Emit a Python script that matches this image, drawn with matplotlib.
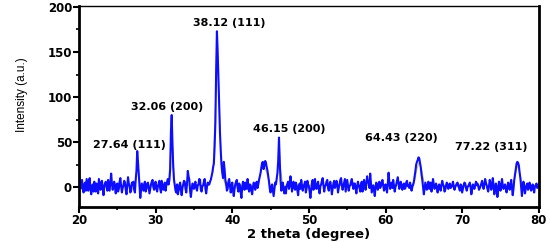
import matplotlib
matplotlib.use("Agg")
import matplotlib.pyplot as plt
import numpy as np
from matplotlib.ticker import MultipleLocator

# measured pattern, 2 theta from 20 to 80 in 0.1 degree steps
two_theta = np.linspace(20.0, 80.0, 601)
intensity = [
    14, 4, -2, 6, 8, -1, -6, 3, 5, -4,  # 20
    9, 2, -4, 7, 10, -3, -8, 1, 3, -5,  # 21
    6, 0, -5, 4, 2, -7, 9, 3, -3, 5,  # 22
    7, -2, -9, 1, 4, 6, 0, -4, 8, 2,  # 23
    -4, 5, 15, 4, -3, 2, 6, -1, -7, 3,  # 24
    4, -5, -2, 6, 10, 1, -6, -1, 2, 7,  # 25
    5, -3, -8, 2, 11, 4, 1, -6, -4, 5,  # 26
    3, 6, -3, -6, 8, 18, 40, 28, 14, -2,  # 27
    -12, -3, 4, 0, -4, 3, 6, -5, -2, 4,  # 28
    5, -1, -7, -2, 3, 6, 8, 0, -3, 4,  # 29
    6, -2, -5, 1, 4, 7, -2, -6, 7, 2,  # 30
    -3, 1, 5, -4, 2, 6, 9, 3, 8, 20,  # 31
    62, 80, 48, 22, 8, 2, -4, -6, 3, -8,  # 32
    -4, 2, 5, -3, -9, -1, 3, 7, 6, -2,  # 33
    -6, 4, 18, 12, 8, -4, -11, -3, 4, 1,  # 34
    -2, 4, 6, -1, -4, 2, 3, 9, 8, -3,  # 35
    -5, 1, 2, 6, 9, -2, -7, 0, 5, 3,  # 36
    3, 6, 8, 12, 16, 22, 26, 45, 72, 130,  # 37
    173, 150, 120, 90, 60, 40, 25, 16, 10, 28,  # 38
    20, 8, 4, -4, -2, 6, 9, 2, -6, 0,  # 39
    5, -4, -10, -2, 3, 6, 8, -1, -5, 4,  # 40
    2, -6, -12, 0, 6, 3, -3, 5, 4, -2,  # 41
    9, 1, -5, 3, 2, -4, -8, 0, 5, 2,  # 42
    -3, 4, 6, -1, 3, 8, 12, 16, 22, 27,  # 43
    28, 20, 24, 29, 27, 22, 18, 12, 6, -2,  # 44
    -6, 0, 3, -4, -10, -2, 5, 3, 10, 16,  # 45
    30, 55, 28, 8, -4, 2, 5, -3, -7, 0,  # 46
    -7, 1, 4, 6, -2, 3, 12, 4, -5, 2,  # 47
    6, -1, -3, 5, 2, -4, -9, 1, 4, -2,  # 48
    8, 2, -4, 1, 3, 6, -6, -2, 7, 3,  # 49
    1, -5, -12, -3, 5, 8, -3, 2, 9, -1,  # 50
    -2, 3, 6, -2, -7, 1, 3, 7, 10, 2,  # 51
    -5, 1, 2, 6, 8, -1, -4, 3, 6, 0,  # 52
    -8, -2, 4, 7, -1, 2, 7, 3, -6, -1,  # 53
    3, 8, 10, 2, -3, 1, 5, 9, -5, 2,  # 54
    8, 2, -4, 1, 2, 6, 9, 3, -2, 4,  # 55
    4, -2, -7, 1, 6, 2, -1, -5, 3, 6,  # 56
    -5, 2, 8, 1, -3, 4, 12, 6, 4, -1,  # 57
    15, 5, -6, -2, 2, -4, -10, 0, 5, 1,  # 58
    -3, 3, 6, -1, 1, 5, 8, 2, -4, 0,  # 59
    3, -2, -6, 4, 16, 6, -2, 2, 5, -1,  # 60
    8, 2, -5, 0, 3, 7, 11, 4, -2, 3,  # 61
    6, 1, -3, 2, 4, -2, -1, 5, 7, 1,  # 62
    2, -1, 5, 1, -4, 0, 3, 6, 12, 18,  # 63
    25, 28, 30, 33, 32, 27, 22, 14, 8, 0,  # 64
    -8, -2, 5, 1, -3, 2, 6, -2, 2, 5,  # 65
    -5, 2, 9, 3, -2, 1, 4, -1, -6, 0,  # 66
    3, -1, -4, 2, 7, 3, 1, -5, -3, 2,  # 67
    5, 1, -2, 3, 4, -1, 0, 2, 6, 1,  # 68
    -3, 0, 2, 4, 5, 1, -1, -4, 3, 1,  # 69
    -6, -2, 2, 5, 4, -1, -4, 0, 1, 3,  # 70
    5, 0, -8, -3, 3, 1, -2, 2, 6, 2,  # 71
    4, 1, -3, -1, 1, 4, 7, 2, -2, 3,  # 72
    9, 5, 2, -2, -5, 1, 8, 4, -3, 2,  # 73
    10, 2, -8, -2, 4, 0, -11, -3, 6, 2,  # 74
    -4, 3, 9, 2, -2, 1, 3, -2, -6, 0,  # 75
    5, 1, -3, 3, 8, 0, -9, -2, 8, 14,  # 76
    20, 26, 28, 27, 24, 16, 10, 0, -10, -2,  # 77
    6, 1, -7, -2, 2, 4, -3, 1, 5, -1,  # 78
    -4, 0, 3, -2, -6, 1, 2, 4, -1, 2,  # 79
    3,  # 80
]

# peak fit envelope (read sparsely)
fit_x = [20, 27.3, 27.5, 27.65, 27.8, 28.0, 31.7, 31.95, 32.1, 32.25, 32.5,
         37.0, 37.5, 37.8, 38.05, 38.3, 38.6, 39.1, 43.3, 43.7, 44.1, 44.5, 44.9,
         45.7, 46.0, 46.15, 46.3, 46.6, 63.7, 64.1, 64.4, 64.7, 65.1,
         76.7, 77.0, 77.25, 77.5, 77.8, 80]
fit_y = [2, 2, 14, 34, 14, 2, 2, 40, 74, 40, 2,
         2, 18, 90, 150, 90, 18, 2, 2, 16, 24, 16, 2,
         2, 20, 44, 20, 2, 2, 20, 28, 20, 2,
         2, 16, 24, 16, 2, 2]

peak_labels = ["27.64 (111)", "32.06 (200)", "38.12 (111)",
               "46.15 (200)", "64.43 (220)", "77.22 (311)"]
label_x = [26.6, 31.5, 39.6, 47.5, 62.1, 73.8]
label_y = [47, 89, 182, 65, 55, 44]

fig = plt.figure(figsize=(5.5, 2.42), dpi=100)
ax = fig.add_axes([0.1436, 0.145, 0.836, 0.83])

ax.plot(fit_x, fit_y, color="#c8c84a", lw=0.8, zorder=1)
ax.plot(two_theta, intensity, color="#0d0dff", lw=1.5, zorder=2)

for txt, tx, ty in zip(peak_labels, label_x, label_y):
    ax.text(tx, ty, txt, ha="center", va="center", fontsize=8,
            fontweight="bold", family="DejaVu Sans")

ax.set_xlim(20, 80)
ax.set_ylim(-22, 201)
ax.xaxis.set_major_locator(MultipleLocator(10))
ax.xaxis.set_minor_locator(MultipleLocator(5))
ax.yaxis.set_major_locator(MultipleLocator(50))
ax.yaxis.set_minor_locator(MultipleLocator(25))
ax.tick_params(which="major", direction="out", length=4, width=1.5,
               labelsize=8.5, pad=1)
ax.tick_params(which="minor", direction="out", length=2.5, width=1.2)
ax.tick_params(axis="x", which="both", top=False)
ax.tick_params(axis="y", which="both", right=False)
for lab in ax.get_xticklabels() + ax.get_yticklabels():
    lab.set_fontweight("bold")

for side in ["left", "bottom", "right"]:
    ax.spines[side].set_linewidth(2)
ax.spines["top"].set_linewidth(1)

ax.set_xlabel("2 theta (degree)", fontsize=9.5, fontweight="bold", labelpad=1)
ax.set_ylabel("Intensity (a.u.)", fontsize=8.5,
              family=["Liberation Sans", "DejaVu Sans"])
ax.yaxis.set_label_coords(-0.11, 0.56)

fig.savefig("out.png", dpi=100)
